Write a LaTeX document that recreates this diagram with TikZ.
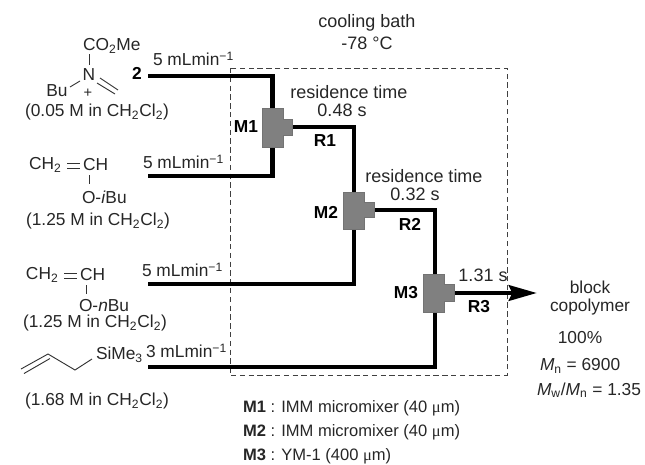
\documentclass[tikz,border=0pt]{standalone}
\usepackage{fontspec}
\setmainfont{Liberation Sans}
\newfontfamily\mufont{Liberation Serif}
\usetikzlibrary{arrows.meta}
\tikzset{
  pipe/.style={line width=3.6pt,line cap=butt,line join=miter,black},
  mixer/.style={draw=black!55,line width=0.5pt,fill=black!50},
  lab/.style={inner sep=0pt,outer sep=0pt,font=\fontsize{13pt}{15pt}\selectfont,text=black!85},
  wide/.style={lab,font=\fontsize{13.5pt}{15pt}\selectfont},
  leg/.style={lab,font=\fontsize{12.4pt}{15pt}\selectfont},
  blab/.style={lab,font=\fontsize{13pt}{15pt}\selectfont\bfseries,text=black},
  small/.style={lab,font=\fontsize{11pt}{12pt}\selectfont},
  bond/.style={line width=0.7pt,black!80},
}
\begin{document}
\begin{tikzpicture}[x=0.75pt,y=-0.75pt]
\useasboundingbox (0,0) rectangle (645,464);
% dashed bath
\draw[line width=0.7pt,black!75,dash pattern=on 4pt off 2.6pt] (230,68) rectangle (507,375);
% junctions
\coordinate (a1) at (148,76); \coordinate (a2) at (148,176); \coordinate (a3) at (148,284); \coordinate (a4) at (148,367);
\coordinate (b1) at (272.5,76); \coordinate (b2) at (272.5,176); \coordinate (b3) at (354,284); \coordinate (b4) at (435,367);
\coordinate (m1t) at (272.5,108); \coordinate (m1b) at (272.5,147);
\coordinate (m2t) at (354,192); \coordinate (m2b) at (354,229);
\coordinate (m3t) at (435,274); \coordinate (m3b) at (435,312);
\coordinate (c1) at (354,127); \coordinate (c2) at (435,210);
\coordinate (m1o) at (292,127); \coordinate (m2o) at (374,210); \coordinate (m3o) at (454,293);
\coordinate (end) at (537,293);
\draw[pipe] (a1) -- (b1) -- (m1t);
\draw[pipe] (a2) -- (b2) -- (m1b);
\draw[pipe] (a3) -- (b3) -- (m2b);
\draw[pipe] (a4) -- (b4) -- (m3b);
\draw[pipe] (m1o) -- (c1) -- (m2t);
\draw[pipe] (m2o) -- (c2) -- (m3t);
\draw[pipe,-{Stealth[length=21pt,width=11.5pt,inset=2.5pt]}] (m3o) -- (end);
% mixers
\draw[mixer] (262,108) -- (283,108) -- (283,119) -- (292,119) -- (292,135) -- (283,135) -- (283,147) -- (262,147) -- cycle;
\draw[mixer] (343,192) -- (364,192) -- (364,202) -- (374,202) -- (374,217) -- (364,217) -- (364,229) -- (343,229) -- cycle;
\draw[mixer] (423,274) -- (444,274) -- (444,284) -- (454,284) -- (454,301) -- (444,301) -- (444,312) -- (423,312) -- cycle;
% labels top
\node[wide] (bath1) at (367,23) {cooling bath};
\node[wide] (bath2) at (367,43) {-78 °C};
\node[lab,anchor=west] (f1) at (153,59) {5 mLmin\textsuperscript{−1}};
\node[lab,anchor=west] (f2) at (143,162) {5 mLmin\textsuperscript{−1}};
\node[lab,anchor=west] (f3) at (142,270) {5 mLmin\textsuperscript{−1}};
\node[lab,anchor=west] (f4) at (146,351) {3 mLmin\textsuperscript{−1}};
\node[blab] (two) at (137,73) {2};
\node[blab] (M1) at (246,127) {M1};
\node[blab] (M2) at (326,212) {M2};
\node[blab] (M3) at (406,293) {M3};
\node[blab] (R1) at (325,141) {R1};
\node[blab] (R2) at (410,224) {R2};
\node[blab] (R3) at (479,307) {R3};
\node[wide] (rt1) at (349,92) {residence time};
\node[wide] (t1) at (342,110) {0.48 s};
\node[wide] (rt2) at (424,176) {residence time};
\node[wide] (t2) at (415,194) {0.32 s};
\node[wide] (t3) at (483,275) {1.31 s};
% product
\node[lab] (p1) at (590,287) {block};
\node[lab] (p2) at (590,307) {copolymer};
\node[lab] (p3) at (580,338) {100\%};
\node[lab,anchor=west] (p4) at (540,366) {\textit{M}\textsubscript{n} = 6900};
\node[lab,anchor=west] (p5) at (537,390) {\textit{M}\textsubscript{w}/\textit{M}\textsubscript{n} = 1.35};
% legend
\node[leg,anchor=west] (l1) at (243,408) {\textbf{M1} : IMM micromixer (40 {\mufont μ}m)};
\node[leg,anchor=west] (l2) at (243,432) {\textbf{M2} : IMM micromixer (40 {\mufont μ}m)};
\node[leg,anchor=west] (l3) at (243,456) {\textbf{M3} : YM-1 (400 {\mufont μ}m)};
% reagent 1
\node[lab,anchor=west] (co) at (83,46) {CO\textsubscript{2}Me};
\node[lab] (n) at (89,75) {N};
\node[lab] (bu) at (57,91) {Bu};
\node[small] (plus) at (88,93) {+};
\node[lab] (c1l) at (97,112) {(0.05 M in CH\textsubscript{2}Cl\textsubscript{2})};
\draw[bond] (89.5,54) -- (89.5,65);
\draw[bond] (70,87) -- (80,81);
\draw[bond] (100,78) -- (118,90);
\draw[bond] (97,83) -- (115,94);
% reagent 2
\node[lab,anchor=west] (v1) at (29,165) {CH\textsubscript{2}};
\node[lab,anchor=west] (v2) at (83,165) {CH};
\node[lab,anchor=west] (v3) at (82,197) {O-\textit{i}Bu};
\node[lab] (v4) at (98,221) {(1.25 M in CH\textsubscript{2}Cl\textsubscript{2})};
\draw[bond] (67,163.5) -- (80,163.5);
\draw[bond] (67,168) -- (80,168);
\draw[bond] (89.5,175) -- (89.5,184);
% reagent 3
\node[lab,anchor=west] (w1) at (26,275) {CH\textsubscript{2}};
\node[lab,anchor=west] (w2) at (80,275) {CH};
\node[lab,anchor=west] (w3) at (79,306) {O-\textit{n}Bu};
\node[lab] (w4) at (95,323) {(1.25 M in CH\textsubscript{2}Cl\textsubscript{2})};
\draw[bond] (64,273.5) -- (77,273.5);
\draw[bond] (64,278) -- (77,278);
\draw[bond] (86.5,285) -- (86.5,294);
% allyl
\node[lab,anchor=west] (si) at (96,355) {SiMe\textsubscript{3}};
\node[lab] (w5) at (97,401) {(1.68 M in CH\textsubscript{2}Cl\textsubscript{2})};
\draw[bond] (21,369) -- (48,354) -- (75,370) -- (92,359);
\draw[bond] (24,373.5) -- (50,358.5);
\end{tikzpicture}
\end{document}
